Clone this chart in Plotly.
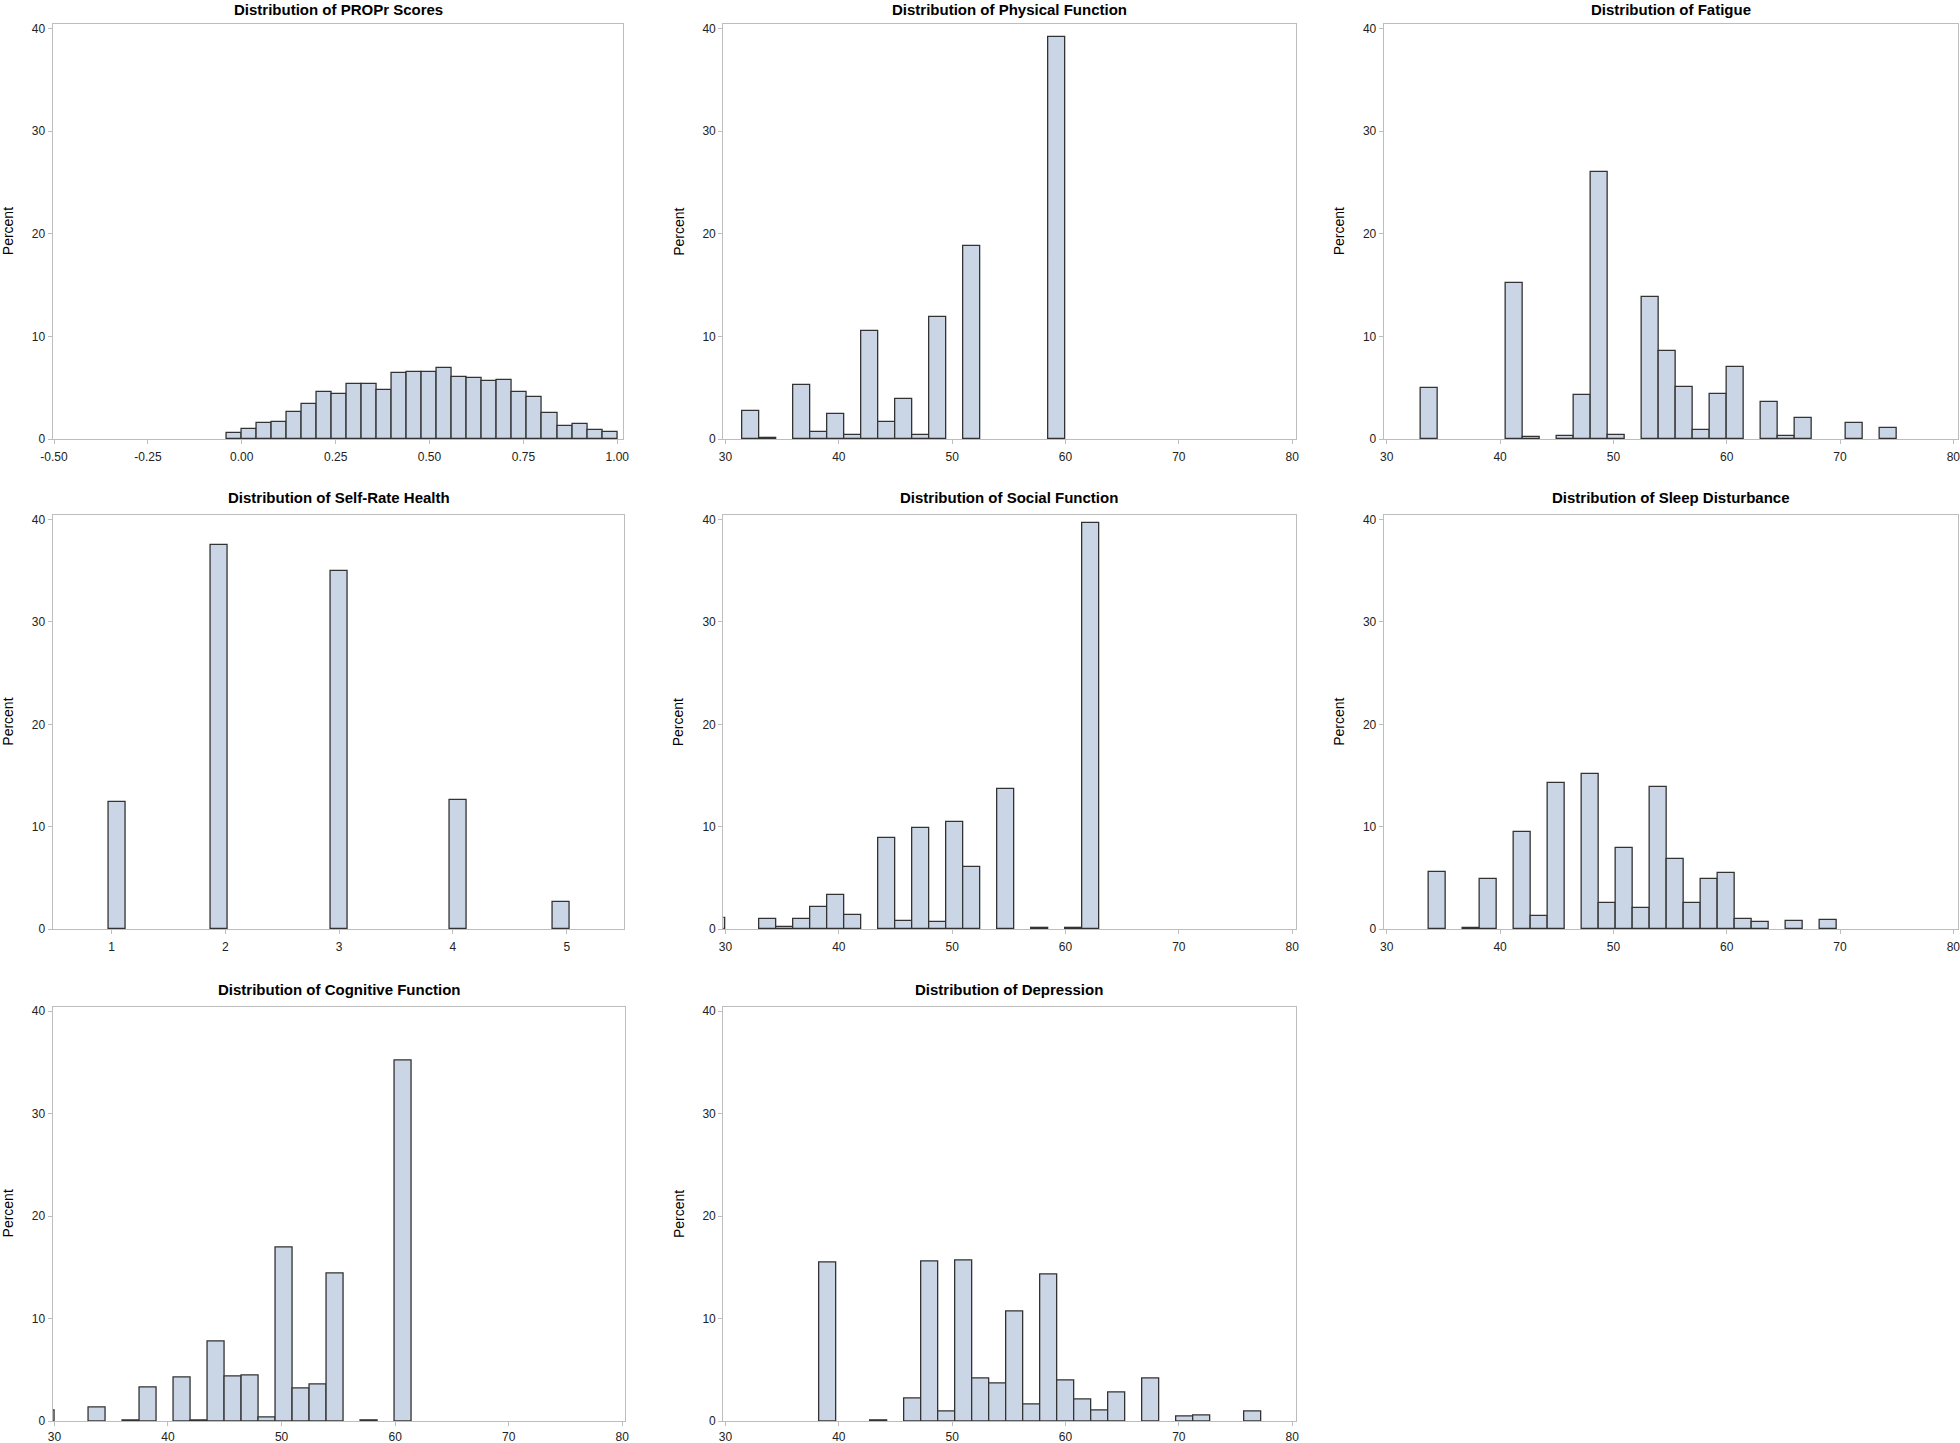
import plotly.graph_objects as go

# ---------------- data (percent per histogram bin) ----------------
titles = [
    "Distribution of PROPr Scores",
    "Distribution of Physical Function",
    "Distribution of Fatigue",
    "Distribution of Self-Rate Health",
    "Distribution of Social Function",
    "Distribution of Sleep Disturbance",
    "Distribution of Cognitive Function",
    "Distribution of Depression",
]

propr_bin_start, propr_bin_width = -0.04, 0.04
propr_pct = [0.58, 0.97, 1.55, 1.65, 2.59, 3.37, 4.56, 4.37, 5.34, 5.40, 4.79, 6.44, 6.50,
             6.57, 6.89, 6.08, 5.95, 5.63, 5.73, 4.63, 4.14, 2.52, 1.29, 1.49, 0.84, 0.71]

physical_bin_start, physical_bin_width = 31.5, 1.5
physical_pct = [2.76, 0.05, 0, 5.23, 0.71, 2.40, 0.36, 10.49, 1.69, 3.93, 0.42, 11.85, 0,
                18.86, 0, 0, 0, 0, 39.22]

fatigue_bin_start, fatigue_bin_width = 33.0, 1.5
fatigue_pct = [5.01, 0, 0, 0, 0, 15.22, 0.16, 0, 0.33, 4.29, 25.98, 0.39, 0, 13.82, 8.55,
               5.04, 0.88, 4.42, 7.02, 0, 3.58, 0.33, 2.08, 0, 0, 1.53, 0, 1.11]

srh_bin_start, srh_bin_width = 0.975, 0.15
srh_pct = [12.40, 0, 0, 0, 0, 0, 37.56, 0, 0, 0, 0, 0, 0, 34.94, 0, 0, 0, 0, 0, 0,
           12.60, 0, 0, 0, 0, 0, 2.60]

social_bin_start, social_bin_width = 28.5, 1.5
social_pct = [1.04, 0, 0, 0.94, 0.19, 0.97, 2.11, 3.34, 1.36, 0, 8.93, 0.81, 9.87, 0.68,
              10.49, 6.04, 0, 13.70, 0, 0.10, 0, 0.05, 39.71]

sleep_bin_start, sleep_bin_width = 33.75, 1.5
sleep_pct = [5.55, 0, 0.13, 4.87, 0, 9.48, 1.30, 14.29, 0, 15.19, 2.56, 7.92, 2.08, 13.86,
             6.82, 2.53, 4.90, 5.45, 1.01, 0.68, 0, 0.78, 0, 0.91]

cognitive_bin_start, cognitive_bin_width = 28.5, 1.5
cognitive_pct = [1.04, 0, 0, 1.27, 0, 0.05, 3.28, 0, 4.22, 0.05, 7.73, 4.32, 4.45, 0.39,
                 16.95, 3.15, 3.60, 14.42, 0, 0.05, 0, 35.16]

depression_bin_start, depression_bin_width = 38.25, 1.5
depression_pct = [15.49, 0, 0, 0.05, 0, 2.18, 15.58, 0.97, 15.62, 4.16, 3.70, 10.71, 1.62,
                  14.25, 3.93, 2.08, 1.01, 2.79, 0, 4.12, 0, 0.42, 0.52, 0, 0, 0.97]

propr_ticks = [-0.50, -0.25, 0.00, 0.25, 0.50, 0.75, 1.00]
propr_tick_labels = ["-0.50", "-0.25", "0.00", "0.25", "0.50", "0.75", "1.00"]
score_ticks = [30, 40, 50, 60, 70, 80]
srh_ticks = [1, 2, 3, 4, 5]
percent_ticks = [0, 10, 20, 30, 40]

# ---------------- layout geometry (pixels) ----------------
W, H = 1960, 1443
FILL = "#CAD5E5"
EDGE = "#333333"
FRAME = "#BDBDBD"
TXT = "#222222"
FONT = "Liberation Sans, Arial, sans-serif"

panels = [
    # (bin_start, bin_width, pct, x_range, ticks, ticklabels, (x0,x1), (ytop,ybot))
    (propr_bin_start, propr_bin_width, propr_pct, [-0.5035, 1.016], propr_ticks, propr_tick_labels, (52.7, 623.3), (24, 439)),
    (physical_bin_start, physical_bin_width, physical_pct, [29.81, 80.29], score_ticks, None, (723.3, 1295.5), (24, 439)),
    (fatigue_bin_start, fatigue_bin_width, fatigue_pct, [29.74, 80.41], score_ticks, None, (1383.8, 1958), (24, 439)),
    (srh_bin_start, srh_bin_width, srh_pct, [0.483, 5.506], srh_ticks, None, (52.7, 624.3), (515, 929)),
    (social_bin_start, social_bin_width, social_pct, [29.81, 80.29], score_ticks, None, (723.3, 1295.5), (515, 929)),
    (sleep_bin_start, sleep_bin_width, sleep_pct, [29.74, 80.41], score_ticks, None, (1383.8, 1958), (515, 929)),
    (cognitive_bin_start, cognitive_bin_width, cognitive_pct, [29.85, 80.24], score_ticks, None, (52.7, 625), (1006.5, 1421)),
    (depression_bin_start, depression_bin_width, depression_pct, [29.81, 80.29], score_ticks, None, (723.3, 1295.5), (1006.5, 1421)),
]

fig = go.Figure()
layout = dict(
    width=W, height=H,
    margin=dict(l=0, r=0, t=0, b=0, pad=0, autoexpand=False),
    paper_bgcolor="white", plot_bgcolor="white",
    showlegend=False, bargap=0,
    font=dict(family=FONT, color=TXT, size=12),
)
annotations = []

for i, (b0, bw, pct, xr, tv, tt, (px0, px1), (pyt, pyb)) in enumerate(panels):
    n = i + 1
    xs, ys = [], []
    for k, v in enumerate(pct):
        if v > 0:
            xs.append(b0 + bw * (k + 0.5))
            ys.append(v)
    fig.add_trace(go.Bar(
        x=xs, y=ys, width=bw,
        marker=dict(color=FILL, line=dict(color=EDGE, width=1.3)),
        xaxis=f"x{n}", yaxis=f"y{n}", hoverinfo="x+y",
    ))
    xdom = [px0 / W, px1 / W]
    ydom = [1 - pyb / H, 1 - pyt / H]
    xa = dict(domain=xdom, range=xr, anchor=f"y{n}", showgrid=False, zeroline=False,
              showline=True, mirror=True, linecolor=FRAME, linewidth=1.2,
              ticks="outside", ticklen=4, tickwidth=1, tickcolor=FRAME,
              tickvals=tv, tickfont=dict(size=12, color=TXT, family=FONT),
              ticklabelstandoff=(0 if pyb > 1000 else 2), automargin=False,
              ticklabeloverflow="allow")
    if tt is not None:
        xa["ticktext"] = tt
    ya = dict(domain=ydom, range=[0, 40.45], anchor=f"x{n}", showgrid=False, zeroline=False,
              showline=True, mirror=True, linecolor=FRAME, linewidth=1.2,
              ticks="outside", ticklen=4, tickwidth=1, tickcolor=FRAME,
              tickvals=percent_ticks, tickfont=dict(size=12, color=TXT, family=FONT),
              automargin=False, ticklabeloverflow="allow")
    layout[f"xaxis{n}"] = xa
    layout[f"yaxis{n}"] = ya
    # title
    if pyt < 100:
        ty, yanch = 1.0, "top"
    else:
        ty, yanch = 1 - (pyt - 17.3) / H, "middle"
    annotations.append(dict(
        text=f"<b>{titles[i]}</b>", xref="paper", yref="paper",
        x=(px0 + px1) / 2 / W, y=ty,
        xanchor="center", yanchor=yanch, showarrow=False, borderpad=0,
        font=dict(size=15, color="black", family=FONT),
    ))
    # y-axis label
    annotations.append(dict(
        text="Percent", xref="paper", yref="paper",
        x=(px0 - 45) / W, y=1 - ((pyt + pyb) / 2) / H,
        xanchor="center", yanchor="middle", showarrow=False, textangle=-90,
        font=dict(size=14, color="black", family=FONT),
    ))

layout["annotations"] = annotations
fig.update_layout(**layout)

fig.write_html("out.html", config={"displayModeBar": False},
               post_script="document.body.style.margin='0';document.body.style.overflow='hidden';")
